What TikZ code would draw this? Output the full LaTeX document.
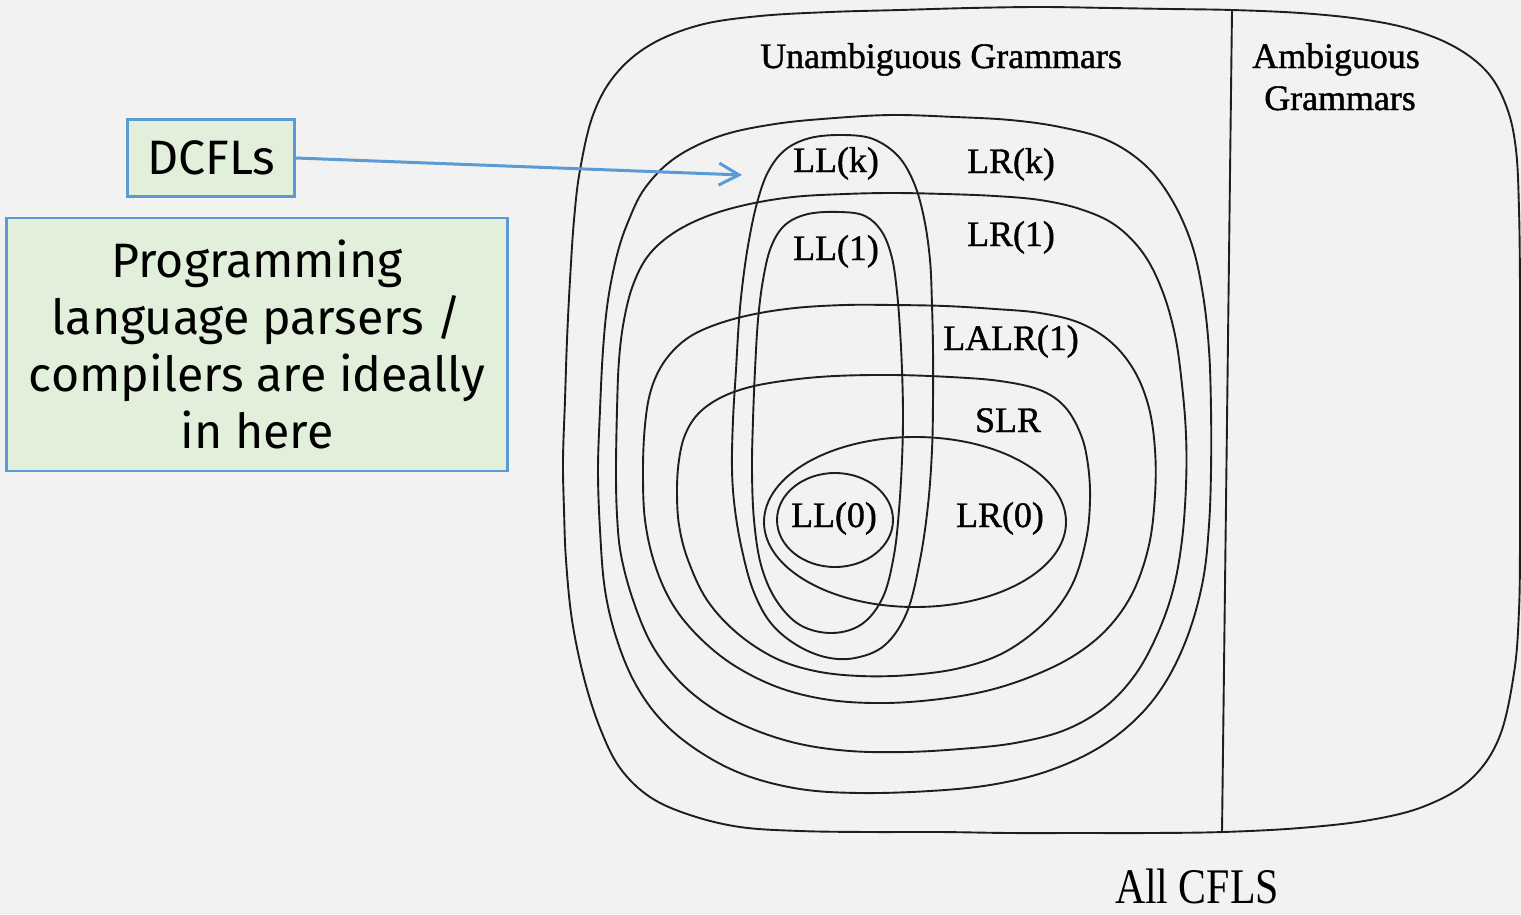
\documentclass[tikz,border=0pt]{standalone}
\usepackage{fontspec}
\usepackage{graphicx}
\usetikzlibrary{arrows.meta}
\newfontfamily\setserif[FakeBold=1.2]{Liberation Serif}
\newfontfamily\captionserif{Liberation Serif}
\newfontfamily\notefont{Fira Sans}
\definecolor{paper}{HTML}{F2F2F2}
\definecolor{ink}{HTML}{1E1E1E}
\definecolor{boxblue}{HTML}{5B9BD5}
\definecolor{boxfill}{HTML}{E2EFDA}
\tikzset{
  region/.style={draw=ink, line width=1.9bp, line join=round},
  setlabel/.style={font=\setserif\fontsize{36}{40}\selectfont, text=black, inner sep=0pt, anchor=base},
  captionlabel/.style={font=\captionserif\fontsize{50}{54}\selectfont, text=black, inner sep=0pt, anchor=base},
  notebox/.style={draw=boxblue, fill=boxfill, line width=2.8bp,
    font=\notefont\fontsize{48.5}{57}\selectfont, align=center, inner sep=0pt},
  pointer/.style={draw=boxblue, line width=3bp, -{Straight Barb[length=20bp,width=22bp]}},
}
\begin{document}
\begin{tikzpicture}[x=1bp,y=-1bp]
\useasboundingbox (0,0) rectangle (1521,914);
\clip (0,0) rectangle (1521,914);
\fill[paper] (0,0) rectangle (1521,914);

% all context-free languages
\draw[region] plot[smooth cycle, tension=0.6] coordinates {
  (563,460) (565,400) (567,340) (570,280) (574,220) (580,170) (593,115) (615,75)
  (650,45) (700,25) (760,16) (830,12) (900,10) (970,8) (1040,7) (1110,8) (1170,9)
  (1232,10) (1300,13) (1360,19) (1410,29) (1455,47) (1488,73) (1507,108) (1516,150)
  (1519,210) (1520,290) (1520,380) (1520,460) (1520,540) (1519,610) (1514,673)
  (1499,738) (1470,780) (1425,806) (1370,820) (1300,828) (1223,832) (1150,833)
  (1080,833) (1010,833) (940,832) (870,832) (800,831) (740,827) (690,815) (650,797)
  (620,768) (600,728) (584,678) (572,620) (566,560) (564,510)};
% unambiguous / ambiguous divider
\draw[region] (1232,10) -- (1222,832);

% LR(k)
\draw[region] plot[smooth cycle, tension=0.6] coordinates {
  (598,470) (600,410) (603,350) (608,300) (617,255) (628,222) (645,188) (675,158)
  (720,136) (775,124) (835,118) (893,115) (955,117) (1010,120) (1060,127) (1107,140)
  (1145,165) (1172,200) (1192,245) (1203,295) (1209,350) (1211,410) (1211,470)
  (1209,525) (1203,580) (1188,635) (1165,683) (1135,720) (1095,750) (1045,772)
  (990,785) (930,791) (860,793) (800,789) (745,775) (700,752) (663,722) (636,685)
  (617,640) (605,590) (600,530)};
% LR(1)
\draw[region] plot[smooth cycle, tension=0.6] coordinates {
  (616,470) (617,410) (619,360) (624,320) (633,285) (648,256) (672,234) (705,217)
  (745,205) (793,197) (845,194) (893,193) (945,194) (995,196) (1040,200) (1080,209)
  (1115,225) (1143,253) (1162,290) (1175,335) (1182,385) (1186,435) (1186,485)
  (1182,540) (1173,590) (1157,635) (1135,675) (1105,707) (1065,730) (1015,743)
  (960,749) (905,752) (850,751) (800,744) (755,730) (715,710) (680,682) (652,645)
  (633,600) (621,555) (617,515)};
% LALR(1)
\draw[region] plot[smooth cycle, tension=0.6] coordinates {
  (643,470) (645,425) (651,390) (664,362) (685,340) (712,326) (750,315) (795,308)
  (845,305) (893,305) (945,306) (995,309) (1040,313) (1080,323) (1112,343)
  (1135,372) (1149,408) (1155,450) (1155,495) (1149,545) (1133,592) (1108,628)
  (1075,655) (1035,675) (990,690) (940,699) (885,703) (830,700) (780,688)
  (735,666) (700,638) (673,605) (655,565) (645,520)};
% SLR
\draw[region] plot[smooth cycle, tension=0.6] coordinates {
  (677,490) (679,460) (685,435) (698,414) (720,398) (750,387) (790,380) (835,376)
  (893,375) (950,377) (1000,381) (1040,390) (1065,407) (1081,435) (1088,465)
  (1090,500) (1086,540) (1072,585) (1045,622) (1005,652) (960,668) (910,675)
  (860,676) (815,671) (775,658) (737,633) (707,600) (688,560) (679,525)};
% LR(0)
\draw[region] (915,522) ellipse[x radius=151, y radius=85];
% LL(k)
\draw[region] plot[smooth cycle, tension=0.6] coordinates {
  (732,470) (733,420) (736,370) (739,320) (743,280) (749,240) (757,203) (768,172)
  (785,150) (810,138) (843,135) (873,139) (898,156) (914,183) (924,218) (930,260)
  (932,305) (933,350) (933,400) (932,450) (928,505) (920,560) (907,612) (885,645)
  (855,658) (825,657) (795,644) (770,622) (753,590) (742,550) (735,510)};
% LL(1)
\draw[region] plot[smooth cycle, tension=0.6] coordinates {
  (752,470) (753,420) (755,370) (758,320) (763,280) (771,247) (785,225) (808,214)
  (840,212) (865,216) (882,232) (892,258) (897,292) (900,330) (902,370) (903,415)
  (902,460) (899,510) (894,555) (883,597) (862,624) (832,633) (800,625) (776,600)
  (761,565) (754,520)};
% LL(0)
\draw[region] (835,520) ellipse[x radius=58, y radius=47];

% class names
\node[setlabel] (unamb) at (941,68) {Unambiguous Grammars};
\node[setlabel] (amb1) at (1336,68) {Ambiguous};
\node[setlabel] (amb2) at (1340,110) {Grammars};
\node[setlabel] (llk) at (836,172) {LL(k)};
\node[setlabel] (lrk) at (1011,173) {LR(k)};
\node[setlabel] (ll1) at (836,260) {LL(1)};
\node[setlabel] (lr1) at (1011,246) {LR(1)};
\node[setlabel] (lalr) at (1011,350) {LALR(1)};
\node[setlabel] (slr) at (1008,432) {SLR};
\node[setlabel] (ll0) at (834,527) {LL(0)};
\node[setlabel] (lr0) at (1000,527) {LR(0)};
\node[captionlabel] (allcfl) at (1197,903) {\scalebox{0.84}[1]{All CFLS}};

% annotations
\node[notebox, minimum width=167bp, minimum height=77bp] (dcfl) at (211,158) {DCFLs};
\node[notebox, minimum width=501bp, minimum height=253bp] (ideal) at (257,344.5)
  {Programming\\language parsers /\\compilers are ideally\\in here};
\coordinate (dcfltip) at (742,175);
\draw[pointer] (dcfl.east) -- (dcfltip);
\end{tikzpicture}
\end{document}
